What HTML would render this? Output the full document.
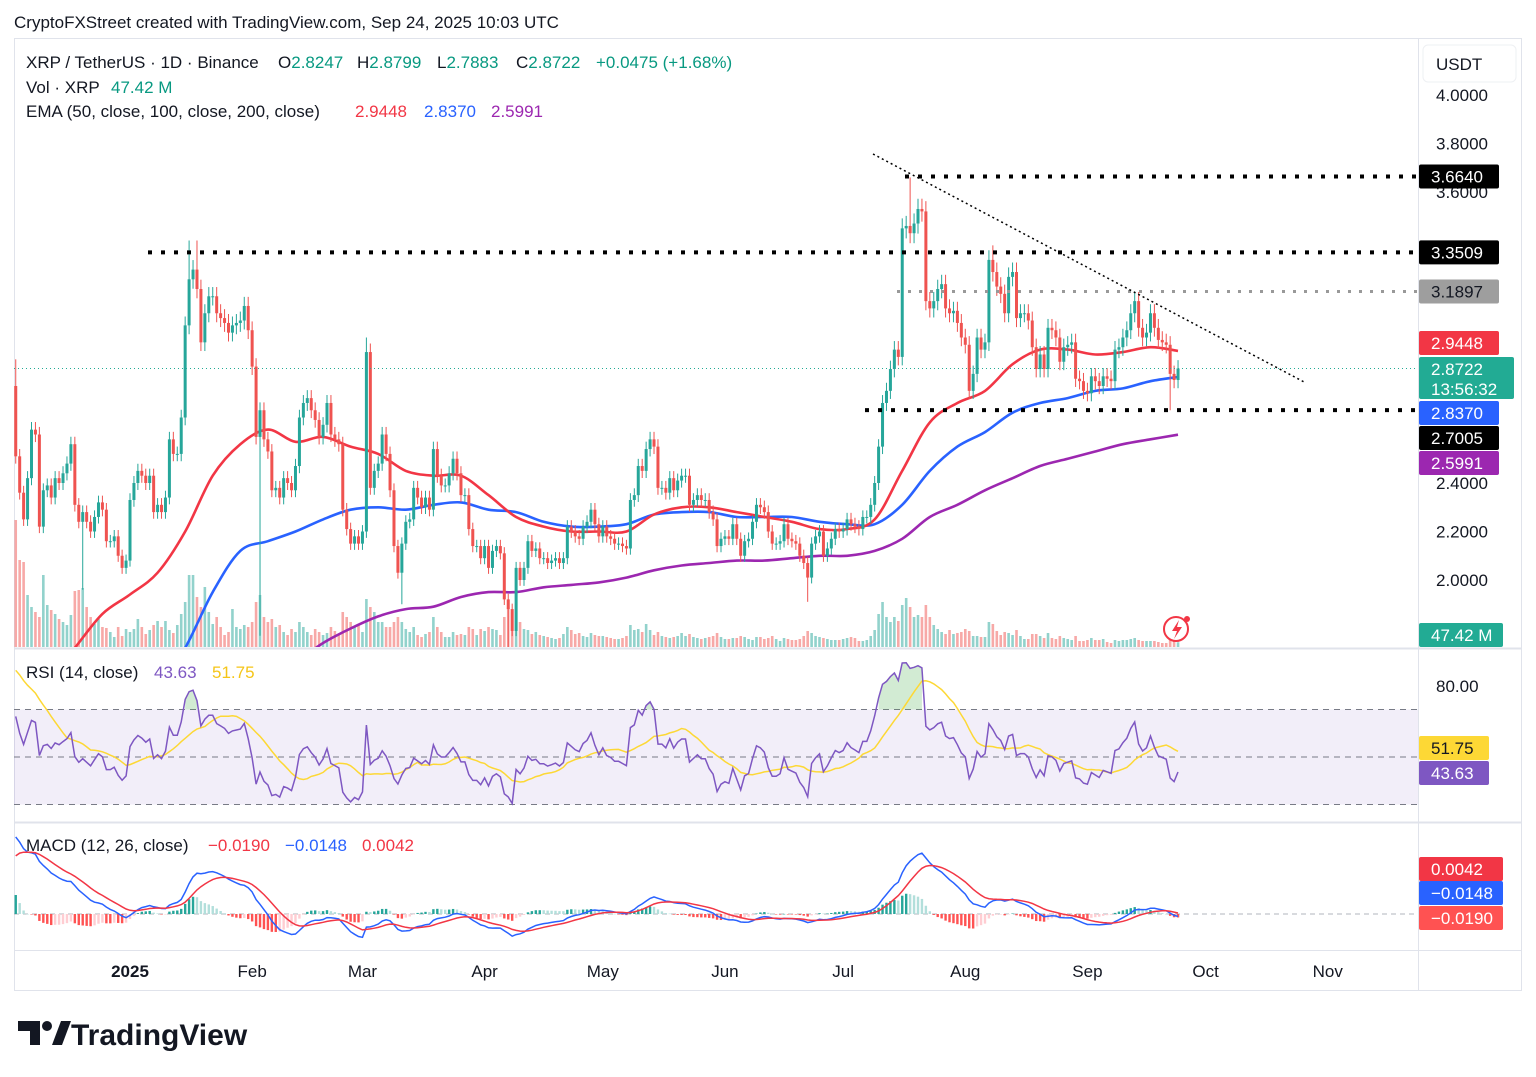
<!DOCTYPE html>
<html><head><meta charset="utf-8">
<style>
html,body{margin:0;padding:0;background:#fff;}
svg{display:block;font-family:"Liberation Sans",sans-serif;}
.ax{font-size:17px;fill:#131722;}
.lg{font-size:17px;}
.bx{font-size:17px;}
</style></head>
<body>
<svg id="chart" width="1536" height="1077" viewBox="0 0 1536 1077" xmlns="http://www.w3.org/2000/svg">
<defs>
<clipPath id="mainClip"><rect x="14" y="39" width="1404" height="608"/></clipPath>
<clipPath id="rsiClip"><rect x="14" y="649" width="1404" height="172"/></clipPath>
<clipPath id="macdClip"><rect x="14" y="823" width="1404" height="126"/></clipPath>
</defs>
<rect x="0" y="0" width="1536" height="1077" fill="#fff"/>
<text x="14" y="28" font-size="17" fill="#131722">CryptoFXStreet created with TradingView.com, Sep 24, 2025 10:03 UTC</text>
<rect x="14.5" y="38.5" width="1507" height="952" fill="none" stroke="#e0e3eb"/>
<line x1="1418.5" y1="38" x2="1418.5" y2="990" stroke="#e0e3eb"/>
<line x1="14" y1="648.5" x2="1522" y2="648.5" stroke="#e0e3eb" stroke-width="2"/>
<line x1="14" y1="822.5" x2="1522" y2="822.5" stroke="#e0e3eb" stroke-width="2"/>
<line x1="14" y1="950.5" x2="1522" y2="950.5" stroke="#e0e3eb"/>
<g id="vol" clip-path="url(#mainClip)"></g>
<g id="emas" clip-path="url(#mainClip)"></g>
<g id="candles" clip-path="url(#mainClip)"></g>
<g id="drawings" clip-path="url(#mainClip)"></g>
<g id="rsi" clip-path="url(#rsiClip)"></g>
<g id="macd" clip-path="url(#macdClip)"></g>
<g id="axes"></g>

<g>
<text class="lg" x="26" y="68" style="fill:#131722">XRP / TetherUS · 1D · Binance</text>
<text class="lg" x="278" y="68" style="fill:#131722">O<tspan style="fill:#089981">2.8247</tspan></text>
<text class="lg" x="357" y="68" style="fill:#131722">H<tspan style="fill:#089981">2.8799</tspan></text>
<text class="lg" x="437" y="68" style="fill:#131722">L<tspan style="fill:#089981">2.7883</tspan></text>
<text class="lg" x="516" y="68" style="fill:#131722">C<tspan style="fill:#089981">2.8722</tspan></text>
<text class="lg" x="596" y="68" style="fill:#089981">+0.0475 (+1.68%)</text>
<text class="lg" x="26" y="93" style="fill:#131722">Vol · XRP</text>
<text class="lg" x="111" y="93" style="fill:#089981">47.42 M</text>
<text class="lg" x="26" y="117" style="fill:#131722">EMA (50, close, 100, close, 200, close)</text>
<text class="lg" x="355" y="117" style="fill:#f23645">2.9448</text>
<text class="lg" x="424" y="117" style="fill:#2962ff">2.8370</text>
<text class="lg" x="491" y="117" style="fill:#9c27b0">2.5991</text>
</g>
<g>
<text class="lg" x="26" y="678" style="fill:#131722">RSI (14, close)</text>
<text class="lg" x="154" y="678" style="fill:#7e57c2">43.63</text>
<text class="lg" x="212" y="678" style="fill:#f5c518">51.75</text>
</g>
<g>
<text class="lg" x="26" y="851" style="fill:#131722">MACD (12, 26, close)</text>
<text class="lg" x="208" y="851" style="fill:#f23645">−0.0190</text>
<text class="lg" x="285" y="851" style="fill:#2962ff">−0.0148</text>
<text class="lg" x="362" y="851" style="fill:#f23645">0.0042</text>
</g>

<g>
<path d="M18 1021 h22 v24 h-10 v-14 h-12 z" fill="#131722"/>
<circle cx="47" cy="1026" r="5" fill="#131722"/>
<path d="M52 1045 l9 -24 h10 l-9 24 z" fill="#131722"/>
<text x="71" y="1045" font-size="30" font-weight="bold" fill="#131722">TradingView</text>
</g>
</svg>
<script>
// ---------- DATA ----------
const prevClose = 2.80;
const closes = [
// Dec 3 - Dec 31
2.51,2.36,2.25,2.42,2.62,2.60,2.22,2.37,2.39,2.34,2.42,2.40,2.44,2.48,2.56,2.31,2.24,2.28,2.24,2.20,2.26,2.32,2.29,2.16,2.16,2.18,2.10,2.05,2.08,
// Jan
2.33,2.40,2.45,2.43,2.40,2.43,2.28,2.31,2.28,2.34,2.58,2.52,2.52,2.67,3.05,3.24,3.28,3.20,2.98,3.10,3.17,3.17,3.10,3.08,3.06,3.02,3.05,3.06,3.07,3.13,3.03,
// Feb
2.88,2.59,2.70,2.58,2.53,2.37,2.38,2.34,2.42,2.40,2.37,2.47,2.67,2.73,2.75,2.70,2.66,2.59,2.64,2.73,2.60,2.58,2.56,2.29,2.21,2.15,2.18,2.15,
// Mar
2.20,2.94,2.38,2.45,2.48,2.60,2.52,2.37,2.14,2.03,2.15,2.24,2.25,2.38,2.34,2.30,2.34,2.29,2.54,2.43,2.39,2.39,2.44,2.50,2.44,2.35,2.35,2.21,2.14,2.14,2.09,
// Apr
2.14,2.05,2.12,2.14,2.11,1.92,1.88,1.79,2.05,2.00,2.05,2.16,2.12,2.13,2.09,2.09,2.07,2.08,2.09,2.07,2.09,2.22,2.20,2.18,2.17,2.22,2.24,2.29,2.23,2.18,
// May
2.22,2.18,2.17,2.15,2.15,2.14,2.13,2.33,2.35,2.47,2.45,2.54,2.58,2.55,2.38,2.38,2.36,2.42,2.37,2.41,2.43,2.43,2.31,2.33,2.35,2.33,2.33,2.28,2.25,2.14,2.17,
// Jun
2.18,2.17,2.23,2.17,2.10,2.16,2.17,2.24,2.31,2.30,2.28,2.20,2.15,2.15,2.16,2.23,2.17,2.16,2.15,2.10,2.07,2.01,2.15,2.18,2.20,2.10,2.13,2.17,2.21,2.20,
// Jul
2.21,2.25,2.23,2.22,2.21,2.26,2.26,2.31,2.40,2.55,2.73,2.78,2.87,2.95,2.92,3.45,3.46,3.43,3.47,3.53,3.52,3.15,3.12,3.15,3.20,3.22,3.12,3.10,3.11,3.06,3.00,
// Aug
2.97,2.78,2.85,3.00,2.95,2.98,3.32,3.27,3.21,3.18,3.10,3.25,3.27,3.08,3.10,3.10,3.07,2.96,2.87,2.93,2.87,3.04,3.03,3.00,2.90,2.96,2.97,2.98,2.83,2.82,2.78,
// Sep
2.77,2.84,2.82,2.80,2.84,2.83,2.82,2.95,2.96,3.00,3.03,3.10,3.15,3.04,3.00,3.02,3.10,3.04,2.99,2.98,2.97,2.85,2.8247,2.8722
];
const volumes = [
1270,870,850,520,400,350,300,720,420,370,330,280,250,220,320,560,570,590,400,300,230,280,200,190,150,100,200,110,180,
150,180,280,200,130,170,220,260,200,260,170,140,220,330,450,720,720,500,400,600,350,230,300,200,120,150,380,200,180,220,200,
250,450,520,300,250,280,200,220,150,120,180,150,250,200,150,120,180,150,120,140,200,160,120,350,300,250,200,220,
150,480,400,350,250,250,200,200,250,300,250,180,150,200,120,100,130,150,300,200,150,100,100,150,120,130,120,200,180,120,180,
160,200,180,170,120,300,400,350,380,250,180,170,130,150,120,110,100,90,80,90,130,200,170,130,140,110,100,140,120,110,
110,100,90,80,80,90,110,220,170,180,150,230,170,120,150,110,100,90,100,110,140,110,130,100,90,80,90,100,110,140,100,
80,80,90,90,110,100,80,70,100,100,80,90,110,80,60,90,80,70,70,80,110,160,140,110,100,90,80,70,70,70,
80,90,100,90,60,60,70,110,170,330,450,300,250,300,260,420,490,400,300,320,300,420,300,220,180,150,130,170,130,140,150,
180,160,110,110,100,100,250,230,160,120,150,140,120,170,110,80,80,130,130,110,90,140,90,80,110,90,80,70,110,60,60,
70,90,70,70,80,50,40,70,60,70,70,80,90,70,60,60,60,60,50,40,40,150,60,47.42
];
// notable wick extremes (candle index from Dec 3 = 0)
const highIdx = [0, 44, 46, 89, 227, 248, 284];
const highVal = [2.91, 3.40, 3.40, 3.00, 3.66, 3.38, 3.19];
const lowIdx = [17, 62, 98, 125, 201, 293];
const lowVal = [1.96, 1.77, 1.90, 1.62, 1.91, 2.70];
// EMA samples (weekly, candle index 1 + 7k)
const emaIdx = [];
for (let k = 0; k <= 42; k++) emaIdx.push(1 + 7 * k);
const ema50 = [1.45,1.58,1.72,1.86,1.94,2.03,2.20,2.43,2.56,2.62,2.57,2.59,2.55,2.52,2.45,2.43,2.43,2.35,2.26,2.22,2.20,2.20,2.20,2.27,2.30,2.30,2.28,2.26,2.24,2.21,2.21,2.25,2.45,2.65,2.73,2.78,2.89,2.95,2.95,2.93,2.94,2.96,2.9448];
const ema100 = [1.05,1.15,1.25,1.36,1.45,1.55,1.72,1.95,2.12,2.16,2.20,2.25,2.29,2.30,2.29,2.31,2.32,2.29,2.28,2.24,2.22,2.22,2.23,2.27,2.28,2.28,2.26,2.26,2.26,2.24,2.23,2.23,2.31,2.45,2.55,2.61,2.69,2.73,2.75,2.78,2.79,2.82,2.837];
const ema200 = [0.80,0.86,0.92,0.98,1.04,1.10,1.17,1.28,1.38,1.60,1.66,1.74,1.80,1.85,1.88,1.89,1.93,1.95,1.95,1.97,1.98,1.99,2.01,2.04,2.06,2.07,2.08,2.08,2.09,2.10,2.10,2.12,2.17,2.26,2.31,2.37,2.42,2.47,2.50,2.53,2.56,2.58,2.5991];
// indicator prior state (before Dec 3)
const rsiSeedGain = 0.07, rsiSeedLoss = 0.012, rsiSeedHistory = 88;
const macdSeedFast = 2.30, macdSeedSlow = 1.85, macdSeedSignal = 0.30;
const priceTicks = [4.0, 3.8, 3.6, 2.4, 2.2, 2.0];
const rsiTicks = [80];
const monthLabels = ["2025","Feb","Mar","Apr","May","Jun","Jul","Aug","Sep","Oct","Nov"];
const monthIdx = [29,60,88,119,149,180,210,241,272,302,333];

// ---------- SCALES ----------
const NS = "http://www.w3.org/2000/svg";
const xS = i => 130 + (i - 29) * 3.94;
const yP = p => 95 + (4 - p) * 242.5;
const yR = r => 757 - (r - 50) * 2.375;
const yM = v => 914 - v * 178;
function mk(tag, attrs, parent) {
  const e = document.createElementNS(NS, tag);
  for (const k in attrs) e.setAttribute(k, attrs[k]);
  parent.appendChild(e);
  return e;
}
function smoothPath(pts) {
  let d = "M" + pts[0][0].toFixed(1) + "," + pts[0][1].toFixed(1);
  for (let i = 0; i < pts.length - 1; i++) {
    const p0 = pts[i - 1] || pts[i], p1 = pts[i], p2 = pts[i + 1], p3 = pts[i + 2] || p2;
    const c1x = p1[0] + (p2[0] - p0[0]) / 6, c1y = p1[1] + (p2[1] - p0[1]) / 6;
    const c2x = p2[0] - (p3[0] - p1[0]) / 6, c2y = p2[1] - (p3[1] - p1[1]) / 6;
    d += " C" + c1x.toFixed(1) + "," + c1y.toFixed(1) + " " + c2x.toFixed(1) + "," + c2y.toFixed(1) + " " + p2[0].toFixed(1) + "," + p2[1].toFixed(1);
  }
  return d;
}
const UP = "#26a69a", DN = "#ef5350";

// ---------- VOLUME ----------
const gV = document.getElementById("vol");
closes.forEach((c, i) => {
  const o = i === 0 ? prevClose : closes[i - 1];
  const h = volumes[i] * 0.1;
  const r = mk("rect", {x: xS(i) - 1.3, y: 647 - h, width: 2.6, height: h, fill: c >= o ? UP : DN, opacity: 0.5}, gV);
  
  
});

// ---------- EMA LINES ----------
const gE = document.getElementById("emas");
[[ema200, "#9c27b0", "ema-200-line"], [ema100, "#2962ff", "ema-100-line"], [ema50, "#f23645", "ema-50-line"]].forEach(([arr, col, nm]) => {
  const pts = arr.map((v, k) => [xS(emaIdx[k]), yP(v)]);
  const pl = mk("path", {d: smoothPath(pts), fill: "none", stroke: col, "stroke-width": 2.6, "stroke-linejoin": "round"}, gE);
  
  
});

// ---------- CANDLES ----------
const gC = document.getElementById("candles");
closes.forEach((c, i) => {
  const o = i === 0 ? prevClose : closes[i - 1];
  let hi = Math.max(o, c) * 1.012, lo = Math.min(o, c) * 0.988;
  const hk = highIdx.indexOf(i); if (hk >= 0) hi = highVal[hk];
  const lk = lowIdx.indexOf(i); if (lk >= 0) lo = lowVal[lk];
  const col = c >= o ? UP : DN;
  const x = xS(i);
  const g = mk("g", {}, gC);
  
  
  mk("line", {x1: x, x2: x, y1: yP(hi), y2: yP(lo), stroke: col, "stroke-width": 1}, g);
  const top = yP(Math.max(o, c)), bot = yP(Math.min(o, c));
  mk("rect", {x: x - 1.5, y: top, width: 3, height: Math.max(1, bot - top), fill: col}, g);
});

// ---------- DRAWINGS ----------
const gD = document.getElementById("drawings");
const lastClose = closes[closes.length - 1];
let l = mk("line", {x1: 14, x2: 1418, y1: yP(lastClose), y2: yP(lastClose), stroke: "#22ab94", "stroke-width": 1, "stroke-dasharray": "1 3"}, gD);
 
const levels = [[3.6640, 905, "#000", 4, "resistance-3-664"], [3.3509, 148, "#000", 4, "resistance-3-351"], [3.1897, 897, "#999", 3, "level-3-190"], [2.7005, 865, "#000", 4, "support-2-700"]];
levels.forEach(([p, x0, col, w, nm]) => {
  const ln = mk("line", {x1: x0, x2: 1418, y1: yP(p), y2: yP(p), stroke: col, "stroke-width": w, "stroke-dasharray": w + " " + (w === 4 ? 9 : 8)}, gD);
  
  
});
l = mk("line", {x1: 873, y1: 154, x2: 1306, y2: 383, stroke: "#000", "stroke-width": 1.5, "stroke-dasharray": "2 3"}, gD);
 
const ic = mk("g", {}, gD);
 
mk("circle", {cx: 1176, cy: 629, r: 12, fill: "#fff", stroke: "#f23645", "stroke-width": 2}, ic);
mk("path", {d: "M1179 620 l-7 11 h5 l-3 8 l8 -12 h-5 z", fill: "#f23645"}, ic);
mk("circle", {cx: 1187, cy: 619, r: 3, fill: "#f23645"}, ic);

// ---------- RSI ----------
const gRs = document.getElementById("rsi");
mk("rect", {x: 14, y: yR(70), width: 1404, height: yR(30) - yR(70), fill: "#7e57c2", opacity: 0.1}, gRs);
[70, 50, 30].forEach(v => {
  const d = mk("line", {x1: 14, x2: 1418, y1: yR(v), y2: yR(v), stroke: "#787b86", "stroke-width": 1, "stroke-dasharray": "6 5"}, gRs);
   
});
const rsiVals = [];
let ag = rsiSeedGain, al = rsiSeedLoss;
closes.forEach((c, i) => {
  const ch = c - (i === 0 ? prevClose : closes[i - 1]);
  ag = (ag * 13 + Math.max(ch, 0)) / 14;
  al = (al * 13 + Math.max(-ch, 0)) / 14;
  rsiVals.push(100 - 100 / (1 + ag / al));
});
const rsiMA = rsiVals.map((v, i) => {
  let s = 0;
  for (let k = i - 13; k <= i; k++) s += k >= 0 ? rsiVals[k] : rsiSeedHistory;
  return s / 14;
});
let obPts = [];
rsiVals.forEach((v, i) => {
  if (v > 70) obPts.push([xS(i), yR(v)]);
  else if (obPts.length) { drawOB(obPts); obPts = []; }
});
if (obPts.length) drawOB(obPts);
function drawOB(p) {
  const d = "M" + p[0][0] + "," + yR(70) + " " + p.map(q => "L" + q[0].toFixed(1) + "," + q[1].toFixed(1)).join(" ") + " L" + p[p.length - 1][0] + "," + yR(70) + "Z";
  const f = mk("path", {d: d, fill: "#4caf50", opacity: 0.25}, gRs);
   
}
l = mk("polyline", {points: rsiMA.map((v, i) => xS(i).toFixed(1) + "," + yR(v).toFixed(1)).join(" "), fill: "none", stroke: "#fdd835", "stroke-width": 1.5}, gRs);
 
l = mk("polyline", {points: rsiVals.map((v, i) => xS(i).toFixed(1) + "," + yR(v).toFixed(1)).join(" "), fill: "none", stroke: "#7e57c2", "stroke-width": 1.5}, gRs);
 

// ---------- MACD ----------
const gM = document.getElementById("macd");
l = mk("line", {x1: 14, x2: 1418, y1: yM(0), y2: yM(0), stroke: "#b2b5be", "stroke-width": 1, "stroke-dasharray": "5 4"}, gM);
 
let ef = macdSeedFast, es = macdSeedSlow, sg = macdSeedSignal;
const macdVals = [], sigVals = [], histVals = [];
closes.forEach(c => {
  ef = ef + (c - ef) * 2 / 13;
  es = es + (c - es) * 2 / 27;
  const m = ef - es;
  sg = sg + (m - sg) * 2 / 10;
  macdVals.push(m); sigVals.push(sg); histVals.push(m - sg);
});
histVals.forEach((h, i) => {
  const prev = i === 0 ? h : histVals[i - 1];
  const col = h >= 0 ? (h >= prev ? "#26a69a" : "#b2dfdb") : (h < prev ? "#ff5252" : "#ffcdd2");
  const y0 = yM(0), y1 = yM(h);
  const r = mk("rect", {x: xS(i) - 1.2, y: Math.min(y0, y1), width: 2.4, height: Math.max(0.5, Math.abs(y1 - y0)), fill: col}, gM);
  
  
});
l = mk("polyline", {points: macdVals.map((v, i) => xS(i).toFixed(1) + "," + yM(v).toFixed(1)).join(" "), fill: "none", stroke: "#2962ff", "stroke-width": 1.5}, gM);
 
l = mk("polyline", {points: sigVals.map((v, i) => xS(i).toFixed(1) + "," + yM(v).toFixed(1)).join(" "), fill: "none", stroke: "#f23645", "stroke-width": 1.5}, gM);
 

// ---------- AXES ----------
const gA = document.getElementById("axes");
priceTicks.forEach(p => {
  const t = mk("text", {x: 1436, y: yP(p) + 6, class: "ax"}, gA);
  t.textContent = p.toFixed(4);
   
});
rsiTicks.forEach(v => {
  const t = mk("text", {x: 1436, y: yR(v) + 6, class: "ax"}, gA);
  t.textContent = v.toFixed(2);
   
});
monthLabels.forEach((m, k) => {
  const t = mk("text", {x: xS(monthIdx[k]), y: 977, class: "ax", "text-anchor": "middle"}, gA);
  if (k === 0) t.setAttribute("font-weight", "bold");
  t.textContent = m;
   
});
const ub = mk("g", {}, gA);
 
mk("rect", {x: 1423, y: 45, width: 93, height: 37, rx: 5, fill: "#fff", stroke: "#eef0f3"}, ub);
const ut = mk("text", {x: 1436, y: 70, class: "ax"}, ub); ut.textContent = "USDT";
function box(yc, h, w, fill, lines, txtFill, nm) {
  const g = mk("g", {}, gA);
  
  
  mk("rect", {x: 1419, y: yc - h / 2, width: w, height: h, rx: 2, fill: fill}, g);
  lines.forEach((s, k) => {
    const t = mk("text", {x: 1431, y: yc - h / 2 + 18 + k * 20, class: "bx", style: "fill:" + (txtFill || "#fff")}, g);
    t.textContent = s;
  });
}
box(yP(3.6640), 24, 80, "#000", ["3.6640"], null, "label-3-664");
box(yP(3.3509), 24, 80, "#000", ["3.3509"], null, "label-3-351");
box(yP(3.1897), 24, 80, "#9e9e9e", ["3.1897"], "#131722", "label-3-190");
box(343, 24, 80, "#f23645", ["2.9448"], null, "ema-50-value-label");
box(378, 42, 95, "#22ab94", ["2.8722", "13:56:32"], null, "last-price-label");
box(413, 24, 80, "#2962ff", ["2.8370"], null, "ema-100-value-label");
box(438, 24, 80, "#000", ["2.7005"], null, "label-2-700");
box(463, 24, 80, "#9c27b0", ["2.5991"], null, "ema-200-value-label");
box(635, 24, 84, "#22ab94", ["47.42 M"], null, "volume-value-label");
box(748, 24, 70, "#fdd835", ["51.75"], "#131722", "rsi-ma-value-label");
box(773, 24, 70, "#7e57c2", ["43.63"], null, "rsi-value-label");
box(869, 24, 84, "#f23645", ["0.0042"], null, "macd-hist-value-label");
box(893, 24, 84, "#2962ff", ["−0.0148"], null, "macd-value-label");
box(918, 24, 84, "#ff5252", ["−0.0190"], null, "macd-signal-value-label");
</script>
</body></html>
